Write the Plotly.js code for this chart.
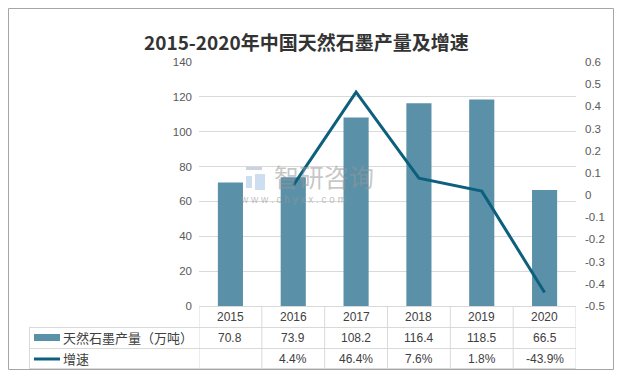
<!DOCTYPE html>
<html><head><meta charset="utf-8">
<script src="https://cdn.plot.ly/plotly-3.0.1.min.js"></script>
<style>html,body{margin:0;padding:0;background:#fff;}#c{width:619px;height:373px;}</style>
</head><body><div id="c"></div>
<script>
// ---- data ----
const years = ['2015','2016','2017','2018','2019','2020'];
const production = [70.8, 73.9, 108.2, 116.4, 118.5, 66.5];
const growth = [null, 0.044, 0.464, 0.076, 0.018, -0.439];
const productionLabels = ['70.8','73.9','108.2','116.4','118.5','66.5'];
const growthLabels = ['', '4.4%', '46.4%', '7.6%', '1.8%', '-43.9%'];
const leftTicks = [0,20,40,60,80,100,120,140];
const rightTicks = [-0.5,-0.4,-0.3,-0.2,-0.1,0,0.1,0.2,0.3,0.4,0.5,0.6];
const rightTickText = ['-0.5','-0.4','-0.3','-0.2','-0.1','0','0.1','0.2','0.3','0.4','0.5','0.6'];
const seriesNames = ['天然石墨产量（万吨）','增速'];
const titleText = '2015-2020年中国天然石墨产量及增速';

// ---- layout helpers ----
const W = 619, H = 373, L = 199, R = 43, T = 62, B = 67;
const pw = W - L - R, ph = H - T - B;
const px = x => (x - L) / pw;          // pixel -> paper x
const py = y => (H - B - y) / ph;       // pixel -> paper y

const barColor = '#5b91a8';
const lineColor = '#0d5f7e';
const gridColor = '#d9d9d9';
const txt = '#404040';
const font = 'Liberation Sans, Arial, sans-serif';
const cjk = '"Noto Sans CJK SC", sans-serif';

const traces = [
  {type:'bar', x: years, y: production, name: seriesNames[0], marker:{color: barColor}, width: 0.4, yaxis:'y', hoverinfo:'skip'},
  {type:'scatter', mode:'lines', x: years, y: growth, name: seriesNames[1], line:{color: lineColor, width: 3}, yaxis:'y2', connectgaps:false, hoverinfo:'skip'}
];

const shapes = [];
const annotations = [];
const lineStyle = {color: gridColor, width: 1};
// outer frame
shapes.push({type:'rect', xref:'paper', yref:'paper', x0: px(8.5), x1: px(613.5), y0: py(8.5), y1: py(369.5), line:{color:'#a6a6a6', width:1}, layer:'below'});
// table: top of year row
shapes.push({type:'line', xref:'paper', yref:'paper', x0: 0, x1: 1, y0: py(306.5), y1: py(306.5), line: lineStyle});
// row lines
[327.5, 348.5, 368.5].forEach(y => shapes.push({type:'line', xref:'paper', yref:'paper', x0: px(29), x1: 1, y0: py(y), y1: py(y), line: lineStyle}));
// left edge of legend column
shapes.push({type:'line', xref:'paper', yref:'paper', x0: px(29.5), x1: px(29.5), y0: py(327), y1: py(369), line: lineStyle});
// vertical column boundaries (category edges via x axis)
for (let i = 0; i <= years.length; i++) {
  shapes.push({type:'line', xref:'x', yref:'paper', x0: i - 0.5, x1: i - 0.5, y0: py(306.5), y1: py(369), line: lineStyle});
}
// legend swatches
shapes.push({type:'rect', xref:'paper', yref:'paper', x0: px(34), x1: px(60), y0: py(341), y1: py(334), fillcolor: barColor, line:{width:0}});
shapes.push({type:'line', xref:'paper', yref:'paper', x0: px(34), x1: px(60), y0: py(359), y1: py(359), line:{color: lineColor, width:3}});

// table text (x = category index on the x axis)
years.forEach((yr, i) => {
  annotations.push({xref:'x', yref:'paper', x: i, y: py(317), text: yr, showarrow:false, font:{family: font, size: 12, color: txt}, xanchor:'center', yanchor:'middle'});
  annotations.push({xref:'x', yref:'paper', x: i, y: py(338), text: productionLabels[i], showarrow:false, font:{family: font, size: 12, color: txt}, xanchor:'center', yanchor:'middle'});
  if (growthLabels[i]) annotations.push({xref:'x', yref:'paper', x: i, y: py(358.5), text: growthLabels[i], showarrow:false, font:{family: font, size: 12, color: txt}, xanchor:'center', yanchor:'middle'});
});
annotations.push({xref:'paper', yref:'paper', x: px(61), y: py(337.5), text: seriesNames[0], showarrow:false, font:{family: cjk, size: 13, color: txt}, xanchor:'left', yanchor:'middle'});
annotations.push({xref:'paper', yref:'paper', x: px(61), y: py(358), text: seriesNames[1], showarrow:false, font:{family: cjk, size: 13, color: txt}, xanchor:'left', yanchor:'middle'});

// title
annotations.push({xref:'paper', yref:'paper', x: px(306), y: py(42), text: '<b>' + titleText + '</b>', showarrow:false, font:{family: cjk, size: 19, color: '#333333'}, xanchor:'center', yanchor:'middle'});

// watermark
annotations.push({xref:'paper', yref:'paper', x: px(272), y: py(176), text: '智研咨询', showarrow:false, font:{family: cjk, size: 25, color: 'rgba(150,150,150,0.55)'}, xanchor:'left', yanchor:'middle'});
annotations.push({xref:'paper', yref:'paper', x: px(238), y: py(199), text: 'w w w . c h y x x . c o m', showarrow:false, font:{family: font, size: 10, color: 'rgba(150,150,150,0.6)'}, xanchor:'left', yanchor:'middle'});
shapes.push({type:'rect', xref:'paper', yref:'paper', x0: px(246), x1: px(262), y0: py(170), y1: py(166), fillcolor:'rgba(170,180,210,0.6)', line:{width:0}, layer:'below'});
shapes.push({type:'rect', xref:'paper', yref:'paper', x0: px(246), x1: px(252), y0: py(188), y1: py(176), fillcolor:'rgba(170,200,230,0.6)', line:{width:0}, layer:'below'});
shapes.push({type:'rect', xref:'paper', yref:'paper', x0: px(255), x1: px(265), y0: py(190), y1: py(174), fillcolor:'rgba(170,200,230,0.6)', line:{width:0}, layer:'below'});

const layout = {
  width: W, height: H,
  margin: {l: L, r: R, t: T, b: B, pad: 0},
  paper_bgcolor: '#ffffff', plot_bgcolor: '#ffffff',
  showlegend: false,
  bargap: 0.6,
  xaxis: {type:'category', showticklabels:false, showgrid:false, zeroline:false, showline:false, ticks:'', range:[-0.5, 5.5], fixedrange:true},
  yaxis: {range:[0,140], tickvals: leftTicks, showgrid:true, gridcolor: gridColor, gridwidth:1, zeroline:false, showline:false, ticks:'', ticklabelstandoff: 6,
          tickfont:{family: font, size: 11.5, color:'#595959'}},
  yaxis2: {overlaying:'y', side:'right', range:[-0.5,0.6], tickvals: rightTicks, ticktext: rightTickText, showgrid:false, zeroline:false, showline:false, ticks:'', ticklabelstandoff: 8,
           tickfont:{family: font, size: 11.5, color:'#595959'}},
  shapes: shapes,
  annotations: annotations
};

Plotly.newPlot('c', traces, layout, {staticPlot:true, displayModeBar:false});
</script>
</body></html>
